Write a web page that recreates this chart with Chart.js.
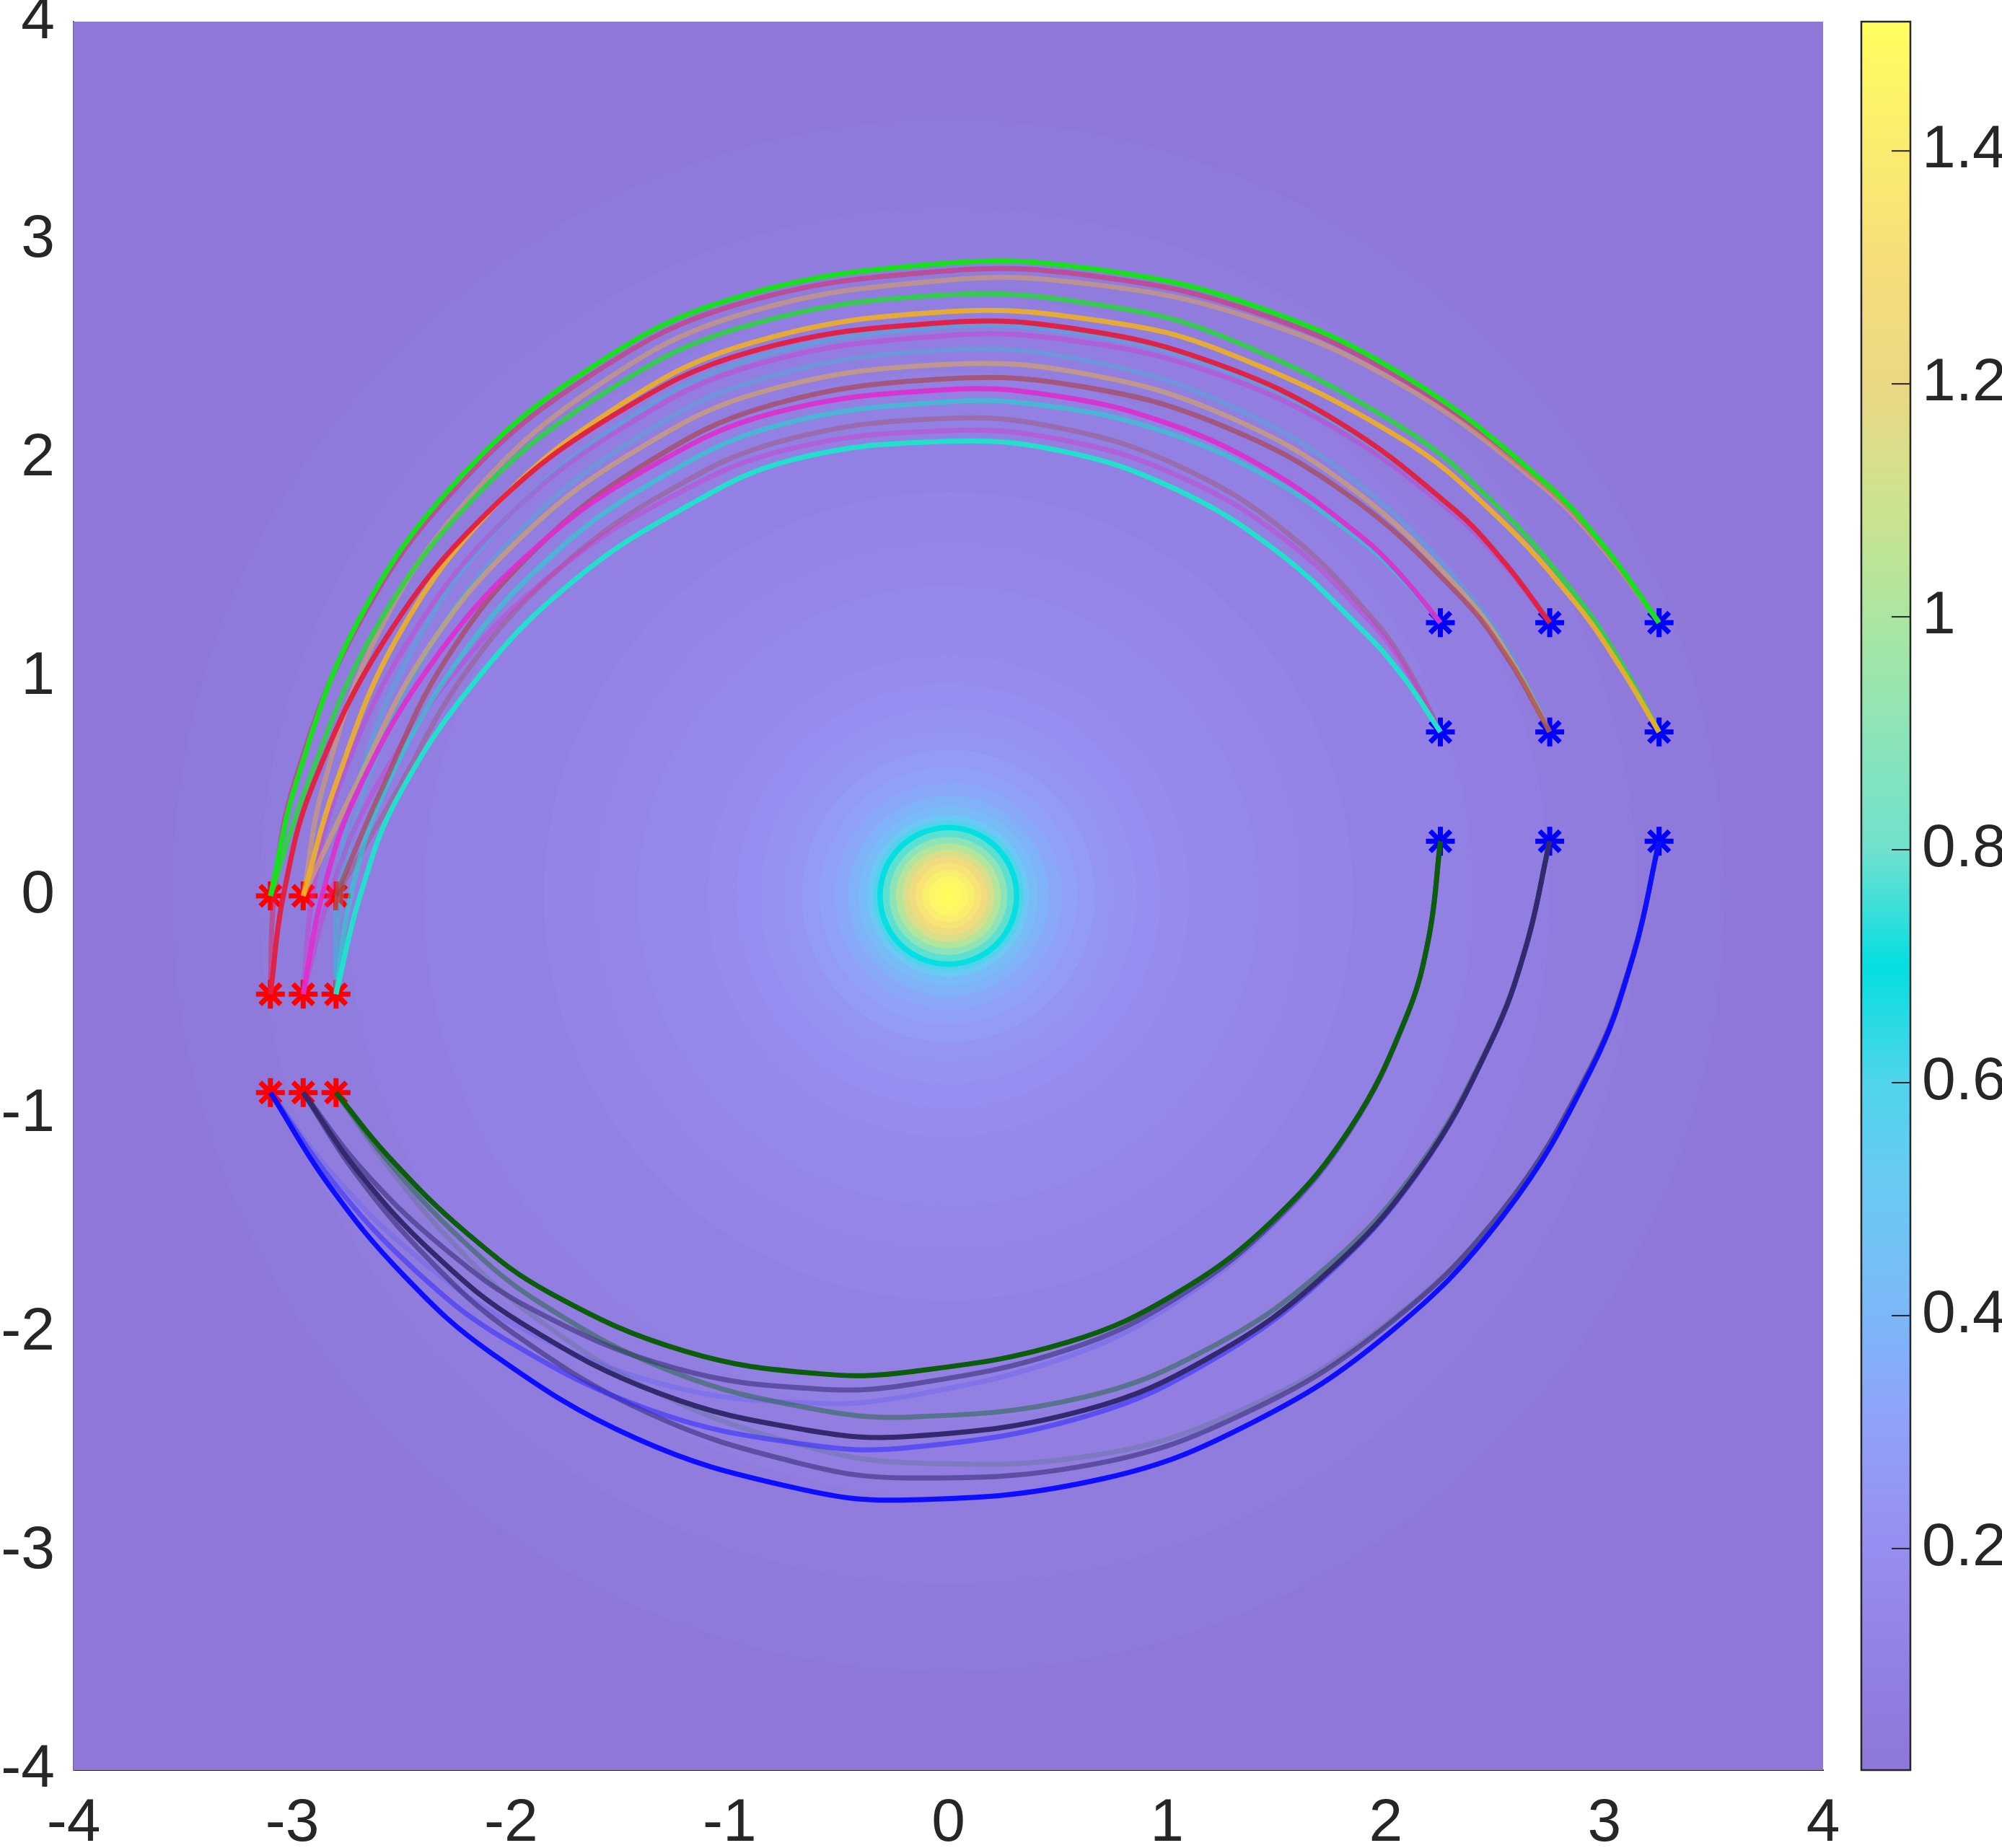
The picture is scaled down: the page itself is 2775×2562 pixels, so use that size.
<!DOCTYPE html>
<html><head><meta charset="utf-8">
<script src="https://cdn.jsdelivr.net/npm/chart.js@4.4.1/dist/chart.umd.min.js"></script>
<style>html,body{margin:0;padding:0;background:#fff;}canvas{display:block;}</style>
</head><body>
<canvas id="c" width="2775" height="2562"></canvas>
<script>
// ---------------- data ----------------
const xTicks = [-4,-3,-2,-1,0,1,2,3,4];
const yTicks = [-4,-3,-2,-1,0,1,2,3,4];
const cbTicks = [0.2,0.4,0.6,0.8,1,1.2,1.4];
const cbMin = 0.0098, cbMax = 1.511;

// start (red) and goal (blue) markers
const startX = [-3.1,-2.95,-2.8,-3.1,-2.95,-2.8,-3.1,-2.95,-2.8];
const startY = [0,0,0,-0.45,-0.45,-0.45,-0.9,-0.9,-0.9];
const goalX  = [2.25,2.75,3.25,2.25,2.75,3.25,2.25,2.75,3.25];
const goalY  = [1.25,1.25,1.25,0.75,0.75,0.75,0.25,0.25,0.25];

// radial field: contour band outer radius and its level
const fieldRadius = [6.0,3.55,3.15,2.75,2.4,2.1,1.85,1.62,1.42,1.25,1.1,0.97,0.86,0.76,0.67,0.59,0.52,0.46,0.41,0.37,0.345,0.325,0.3,0.27,0.24,0.21,0.18,0.15,0.12,0.09,0.06,0.03];
const fieldLevel  = [0.012,0.035,0.055,0.075,0.095,0.11,0.125,0.14,0.155,0.17,0.185,0.2,0.22,0.24,0.27,0.3,0.34,0.38,0.43,0.5,0.6,0.7,0.78,0.9,1.02,1.14,1.25,1.34,1.41,1.46,1.49,1.51];

// colormap
const cmapLevel = [0,0.1,0.2,0.3,0.4,0.5,0.6,0.66,0.7,0.75,0.8,0.9,1.0,1.1,1.2,1.3,1.4,1.52];
const cmapRGB = [[142,118,214],[146,128,227],[150,142,240],[145,160,248],[124,183,248],[108,200,244],[80,212,236],[35,219,228],[5,222,226],[60,223,218],[112,225,205],[140,228,184],[172,230,160],[206,226,142],[234,216,132],[247,221,122],[250,236,112],[255,255,92]];

// trajectories, polar samples (angle in degrees, radius)
const topA_deg = [180,170,155,140,125,110,90,76.21,62.42,48.62,34.83,27.94,21.04];
const topA_r   = [3.1,3.026,2.977,2.942,2.918,2.905,2.895,2.948,3.042,3.165,3.318,3.40,3.482];
const topB_deg = [188.26,180,170,155,140,125,110,90,76.21,62.42,48.62,34.83,27.94,21.04];
const topB_r   = [3.1325,3.083,3.034,2.969,2.923,2.89,2.874,2.86,2.916,3.016,3.146,3.308,3.395,3.482];
const topC_deg = [180,170,155,140,125,110,90,76.21,62.42,48.62,34.83,27.94,21.04];
const topC_r   = [2.95,2.902,2.871,2.848,2.833,2.825,2.818,2.878,2.984,3.123,3.296,3.389,3.482];
const topD_deg = [180,170,155,140,125,110,90,74.6,63.47,45.81,35.43,25.77,19.16,12.99];
const topD_r   = [3.1,2.974,2.89,2.831,2.789,2.768,2.75,2.796,2.852,2.984,3.078,3.179,3.255,3.335];
const topE_deg = [180,170,155,140,125,110,90,74.6,63.25,45.4,34.6,24.94,18.83,12.99];
const topE_r   = [2.95,2.85,2.784,2.737,2.703,2.687,2.673,2.725,2.79,2.942,3.052,3.167,3.246,3.335];
const topF_deg = [188.26,180,170,155,140,125,110,90,76.89,63.78,50.66,37.55,31.0,24.44];
const topF_r   = [3.1325,3.041,2.949,2.827,2.741,2.68,2.649,2.624,2.66,2.723,2.807,2.91,2.965,3.021];
const topG_deg = [189.13,180,170,155,140,125,110,90,76.89,63.78,50.66,37.55,31.0,24.44];
const topG_r   = [2.836,2.794,2.752,2.697,2.657,2.63,2.616,2.604,2.642,2.708,2.796,2.904,2.963,3.021];
const topH_deg = [188.67,180,170,155,140,125,110,90,76.89,63.78,50.66,37.55,31.0,24.44];
const topH_r   = [2.984,2.908,2.833,2.732,2.661,2.61,2.585,2.564,2.605,2.678,2.774,2.893,2.957,3.021];
const topI_deg = [189.13,180,170,155,140,125,110,90,75.05,60.10,45.16,30.21,22.73,15.26];
const topI_r   = [2.836,2.775,2.714,2.633,2.576,2.535,2.515,2.498,2.53,2.586,2.66,2.751,2.801,2.85];
const topJ_deg = [180,170,155,140,125,110,90,75.05,60.10,45.16,30.21,22.73,15.26];
const topJ_r   = [2.95,2.764,2.639,2.551,2.489,2.458,2.432,2.47,2.537,2.624,2.733,2.791,2.85];
const topK_deg = [180,170,155,140,125,110,90,75.05,60.10,45.16,30.21,22.73,15.26];
const topK_r   = [2.8,2.644,2.54,2.466,2.414,2.388,2.366,2.41,2.487,2.589,2.714,2.782,2.85];
const topL_deg = [188.67,180,170,155,140,125,110,90,77.81,65.62,53.43,41.24,35.15,29.05];
const topL_r   = [2.984,2.864,2.744,2.584,2.47,2.39,2.35,2.317,2.34,2.381,2.435,2.502,2.538,2.574];
const topM_deg = [189.13,180,170,155,140,125,110,90,77.81,65.62,53.43,41.24,35.15,29.05];
const topM_r   = [2.836,2.733,2.629,2.491,2.393,2.324,2.29,2.261,2.289,2.339,2.405,2.486,2.53,2.574];
const topN_deg = [180,170,155,140,125,110,90,75.69,61.37,47.06,32.74,25.59,18.43];
const topN_r   = [2.8,2.579,2.431,2.326,2.253,2.216,2.185,2.202,2.232,2.271,2.32,2.346,2.372];
const topO_deg = [188.67,180,170,155,140,125,110,90,75.69,61.37,47.06,32.74,25.59,18.43];
const topO_r   = [2.984,2.83,2.676,2.471,2.326,2.223,2.172,2.129,2.151,2.19,2.241,2.304,2.338,2.372];
const topP_deg = [189.13,180,170,155,140,125,110,90,75.69,61.37,47.06,32.74,25.59,18.43];
const topP_r   = [2.836,2.69,2.56,2.37,2.24,2.15,2.12,2.08,2.10,2.13,2.175,2.25,2.31,2.372];

const botBlue_deg  = [196.19,205,215,225,240,255,266,285,300,315,330,345,355,364.4];
const botBlue_r    = [3.228,3.127,3.035,2.957,2.864,2.799,2.771,2.759,2.782,2.839,2.929,3.046,3.144,3.26];
const botNavy_deg  = [196.97,205,215,225,240,255,266,285,300,315,330,345,355,365.19];
const botNavy_r    = [3.084,2.98,2.865,2.763,2.631,2.529,2.479,2.434,2.426,2.444,2.492,2.57,2.652,2.761];
const botGreen_deg = [197.82,205,215,225,240,255,266,285,300,315,330,345,355,366.34];
const botGreen_r   = [2.941,2.824,2.689,2.572,2.406,2.264,2.18,2.114,2.096,2.099,2.123,2.165,2.205,2.264];
const botT1_deg = [196.97,205,215,225,240,255,266,285,300,315,330,345,355,366.34];
const botT1_r   = [3.084,2.958,2.813,2.681,2.496,2.335,2.238,2.146,2.114,2.107,2.126,2.166,2.205,2.264];
const botT2_deg = [196.19,205,215,225,240,255,266,285,300,315,330,345,355,366.34];
const botT2_r   = [3.228,3.080,2.927,2.785,2.584,2.403,2.29,2.176,2.130,2.115,2.129,2.166,2.205,2.264];
const botT3_deg = [197.82,205,215,225,240,255,266,285,300,315,330,345,355,365.19];
const botT3_r   = [2.941,2.839,2.728,2.636,2.516,2.428,2.39,2.376,2.389,2.423,2.482,2.567,2.651,2.761];
const botT4_deg = [196.19,205,215,225,240,255,266,285,300,315,330,345,355,365.19];
const botT4_r   = [3.228,3.103,2.981,2.868,2.718,2.596,2.53,2.462,2.442,2.451,2.495,2.571,2.652,2.761];
const botT5_deg = [197.82,205,215,225,240,255,266,285,300,315,330,345,355,364.4];
const botT5_r   = [2.941,2.854,2.767,2.704,2.634,2.601,2.60,2.647,2.709,2.797,2.910,3.040,3.143,3.26];
const botT6_deg = [196.97,205,215,225,240,255,266,285,300,315,330,345,355,364.4];
const botT6_r   = [3.084,2.994,2.900,2.823,2.735,2.684,2.67,2.686,2.729,2.805,2.911,3.040,3.142,3.26];

// ---------------- styles (drawing order: first = bottom) ----------------
const trajStyles = [
  [topG_deg, topG_r, 'rgba(40,200,210,0.35)'],
  [topH_deg, topH_r, 'rgba(230,40,200,0.35)'],
  [topI_deg, topI_r, 'rgba(40,200,210,0.3)'],
  [topJ_deg, topJ_r, 'rgba(240,175,60,0.5)'],
  [topN_deg, topN_r, 'rgba(175,60,60,0.3)'],
  [topO_deg, topO_r, 'rgba(225,40,200,0.35)'],
  [topB_deg, topB_r, 'rgba(235,25,70,0.45)'],
  [topC_deg, topC_r, 'rgba(240,170,60,0.45)'],
  [topD_deg, topD_r, 'rgba(40,215,60,0.85)'],
  [topM_deg, topM_r, 'rgba(30,215,205,0.6)'],
  [topK_deg, topK_r, 'rgba(175,60,60,0.6)'],
  [topE_deg, topE_r, 'rgba(240,175,35,0.9)'],
  [topF_deg, topF_r, 'rgba(228,30,62,0.95)'],
  [topL_deg, topL_r, 'rgba(222,45,205,0.9)'],
  [topA_deg, topA_r, '#18e01e'],
  [topP_deg, topP_r, '#22e0cc'],
  [botT5_deg, botT5_r, 'rgba(60,110,80,0.22)'],
  [botT2_deg, botT2_r, 'rgba(80,80,255,0.25)'],
  [botT1_deg, botT1_r, 'rgba(40,30,100,0.5)'],
  [botT3_deg, botT3_r, 'rgba(20,100,40,0.45)'],
  [botT6_deg, botT6_r, 'rgba(40,30,100,0.5)'],
  [botT4_deg, botT4_r, 'rgba(50,40,255,0.55)'],
  [botNavy_deg, botNavy_r, '#33296e'],
  [botGreen_deg, botGreen_r, '#0b5c0b'],
  [botBlue_deg, botBlue_r, '#0d0dff']
];

// ---------------- helpers ----------------
function cmapArr(v){
  if (v <= cmapLevel[0]) return cmapRGB[0];
  for (let i = 1; i < cmapLevel.length; i++){
    if (v <= cmapLevel[i]){
      const t = (v - cmapLevel[i-1])/(cmapLevel[i]-cmapLevel[i-1]);
      const a = cmapRGB[i-1], b = cmapRGB[i];
      return [0,1,2].map(k => Math.round(a[k] + (b[k]-a[k])*t));
    }
  }
  return cmapRGB[cmapRGB.length-1];
}
function cmap(v){ const c = cmapArr(v); return `rgb(${c[0]},${c[1]},${c[2]})`; }
function polarToXY(deg, r){
  return deg.map((d,i) => ({x: r[i]*Math.cos(d*Math.PI/180), y: r[i]*Math.sin(d*Math.PI/180)}));
}

const FONT = {family: "'Liberation Sans', Arial, Helvetica, sans-serif", size: 84};
const TXT = '#262626';

// ---------------- plugins ----------------
const fieldPlugin = {
  id: 'field',
  beforeDatasetsDraw(chart){
    const {ctx, chartArea: a, scales: {x, y}} = chart;
    ctx.save();
    ctx.beginPath(); ctx.rect(a.left, a.top, a.right - a.left, a.bottom - a.top); ctx.clip();
    const cx = x.getPixelForValue(0), cy = y.getPixelForValue(0);
    for (let i = 0; i < fieldRadius.length; i++){
      const rx = Math.abs(x.getPixelForValue(fieldRadius[i]) - cx);
      const ry = Math.abs(y.getPixelForValue(fieldRadius[i]) - cy);
      ctx.fillStyle = cmap(fieldLevel[i]);
      ctx.beginPath(); ctx.ellipse(cx, cy, rx, ry, 0, 0, Math.PI*2); ctx.fill();
    }
    ctx.restore();
  }
};
const colorbarPlugin = {
  id: 'colorbar',
  afterDraw(chart){
    const {ctx} = chart; const cb = chart.scales.cb;
    const x0 = cb.left + 53, w = 68;
    const yTop = cb.getPixelForValue(cbMax), yBot = cb.getPixelForValue(cbMin);
    const g = ctx.createLinearGradient(0, yBot, 0, yTop);
    g.addColorStop(0, cmap(cbMin));
    cmapLevel.forEach(v => { if (v > cbMin && v < cbMax) g.addColorStop((v-cbMin)/(cbMax-cbMin), cmap(v)); });
    g.addColorStop(1, cmap(cbMax));
    ctx.save();
    ctx.fillStyle = g; ctx.fillRect(x0, yTop, w, yBot - yTop);
    ctx.strokeStyle = TXT; ctx.lineWidth = 2.5;
    ctx.strokeRect(x0, yTop, w, yBot - yTop);
    ctx.lineWidth = 2;
    cbTicks.forEach(v => {
      const py = cb.getPixelForValue(v);
      ctx.beginPath(); ctx.moveTo(x0 + w - 26, py); ctx.lineTo(x0 + w, py); ctx.stroke();
    });
    ctx.restore();
  }
};

// ---------------- datasets ----------------
const datasets = [];
datasets.push({
  label: 'start', data: startX.map((v,i)=>({x:v, y:startY[i]})), showLine: false,
  pointStyle: 'star', pointRadius: 20, pointBorderWidth: 7, borderColor: '#ff0000', backgroundColor: '#ff0000'
});
datasets.push({
  label: 'goal', data: goalX.map((v,i)=>({x:v, y:goalY[i]})), showLine: false,
  pointStyle: 'star', pointRadius: 20, pointBorderWidth: 7, borderColor: '#0000ff', backgroundColor: '#0000ff'
});
trajStyles.forEach(([deg, r, col]) => {
  datasets.push({
    data: polarToXY(deg, r), showLine: true, borderColor: col, borderWidth: 7,
    pointRadius: 0, tension: 0.4, fill: false
  });
});
datasets.forEach((d, i) => { d.order = -i; });

new Chart(document.getElementById('c'), {
  type: 'scatter',
  data: { datasets },
  plugins: [fieldPlugin, colorbarPlugin],
  options: {
    responsive: false, animation: false, devicePixelRatio: 1, events: [],
    layout: { padding: { top: 30, left: 0, right: 0, bottom: 0 } },
    plugins: { legend: { display: false }, tooltip: { enabled: false } },
    scales: {
      x: {
        type: 'linear', position: 'bottom', min: -4, max: 4, z: 1,
        grid: { display: false, drawTicks: false },
        border: { display: true, color: TXT, width: 2 },
        afterBuildTicks: s => { s.ticks = xTicks.map(v => ({value: v})); },
        afterFit: s => { s.height = 108; s.paddingLeft = 0; s.paddingRight = 0; },
        ticks: { padding: 24, font: FONT, color: TXT, maxRotation: 0, autoSkip: false, callback: v => String(v) }
      },
      y: {
        type: 'linear', position: 'left', min: -4, max: 4, z: 1,
        grid: { display: false, drawTicks: false },
        border: { display: true, color: '#6b6b6b', width: 2 },
        afterBuildTicks: s => { s.ticks = yTicks.map(v => ({value: v})); },
        afterFit: s => { s.width = 102; s.paddingTop = 0; s.paddingBottom = 0; },
        ticks: { padding: 26, font: FONT, color: TXT, autoSkip: false, callback: v => String(v) }
      },
      cb: {
        type: 'linear', position: 'right', min: cbMin, max: cbMax,
        grid: { display: false, drawTicks: false },
        border: { display: false },
        afterBuildTicks: s => { s.ticks = cbTicks.map(v => ({value: v})); },
        afterFit: s => { s.width = 248; s.paddingTop = 0; s.paddingBottom = 0; },
        ticks: { padding: 137, font: FONT, color: TXT, autoSkip: false, callback: v => (v === 1 ? '1' : v.toFixed(1)) }
      }
    }
  }
});
</script>
</body></html>
